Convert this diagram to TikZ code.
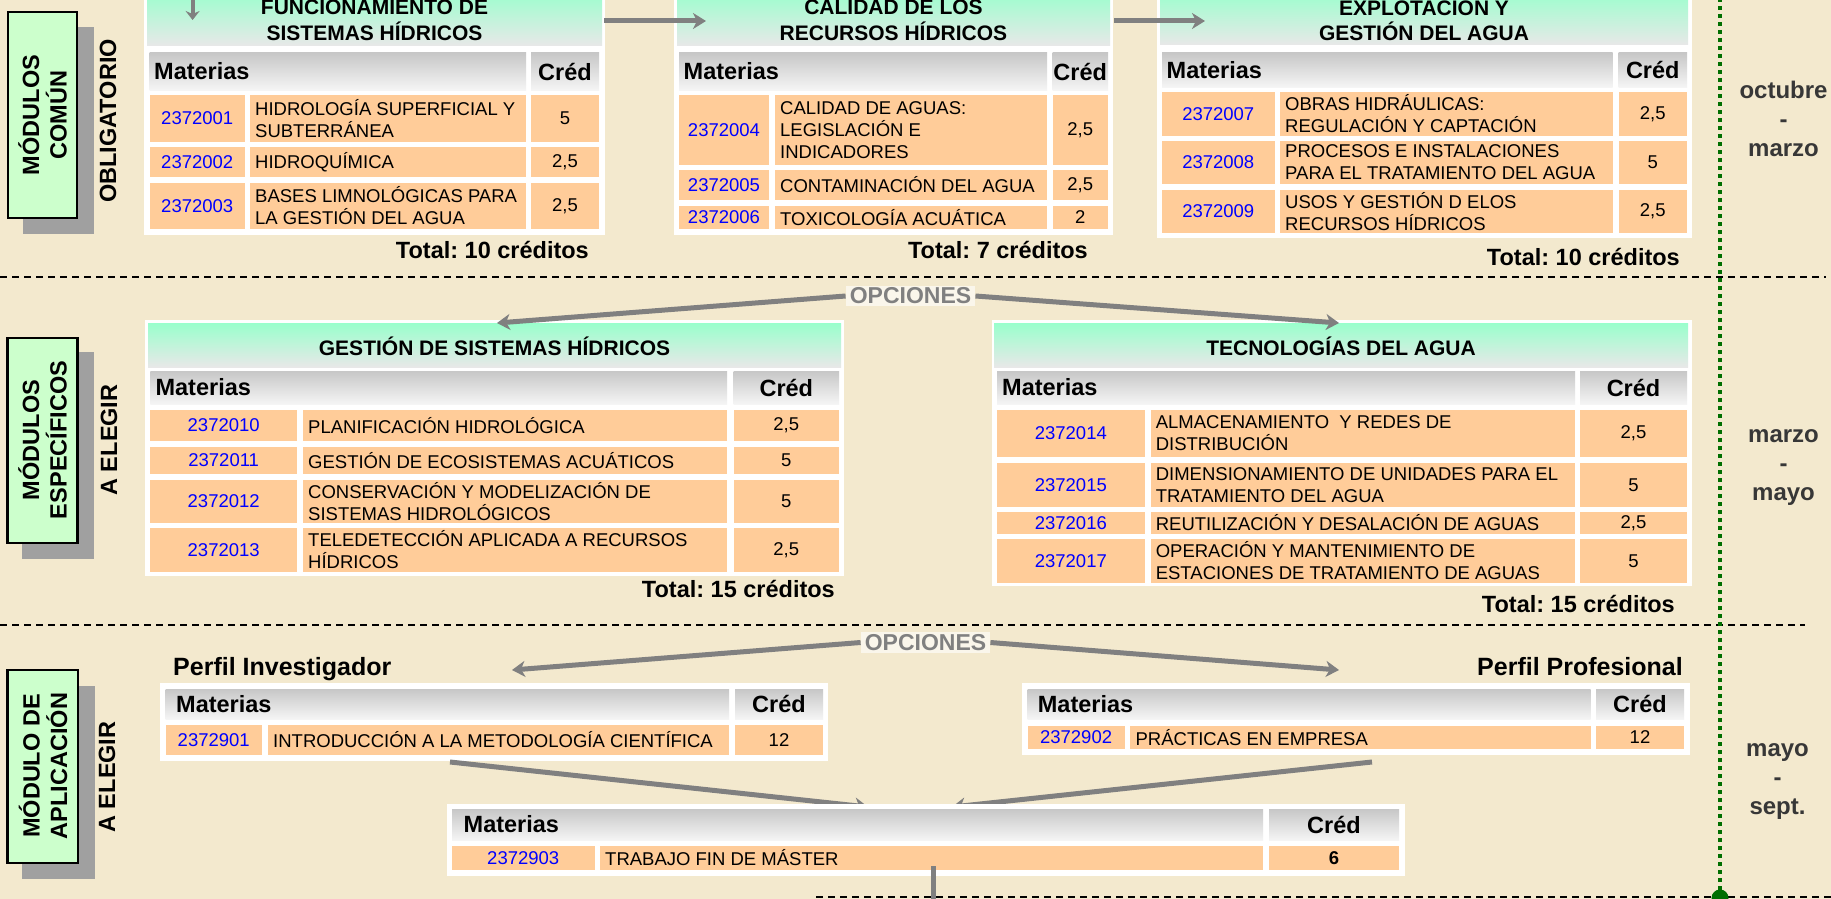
\documentclass[tikz,border=0pt]{standalone}
\usepackage{fontspec}
\setmainfont{Liberation Sans}
\frenchspacing
\usetikzlibrary{arrows.meta}
\definecolor{bgc}{RGB}{243,233,206}
\definecolor{mint}{RGB}{153,255,204}
\definecolor{lblgreen}{RGB}{204,255,204}
\definecolor{cellor}{RGB}{255,204,153}
\definecolor{arrowgray}{RGB}{128,128,128}
\definecolor{shadowgray}{RGB}{160,160,160}
\definecolor{dotgreen}{RGB}{0,110,0}
\definecolor{monthgray}{RGB}{55,55,55}
\newcommand\myfs[2]{\fontsize{#1}{#2}\selectfont}
\tikzset{
 bodytxt/.style={font=\myfs{18.5}{22}, inner sep=0pt},
 codetxt/.style={bodytxt, text=blue},
 desctxt/.style={bodytxt, align=left, anchor=west},
 credtxt/.style={bodytxt},
 hdtxt/.style={font=\bfseries\myfs{23.5}{26}, inner sep=0pt},
 titletxt/.style={font=\bfseries\myfs{21}{25.5}, align=center, inner sep=0pt},
 totaltxt/.style={font=\bfseries\myfs{23.5}{26}, inner sep=0pt},
 sidebox/.style={fill=lblgreen, draw=black, line width=2.5pt},
 sideshadow/.style={fill=shadowgray},
 sidetxt/.style={font=\bfseries\myfs{23.5}{27.5}, align=center, rotate=90, inner sep=0pt},
 monthtxt/.style={font=\bfseries\myfs{24}{29}, align=center, text=monthgray, inner sep=0pt},
 opcbox/.style={font=\bfseries\myfs{23}{26}, text=arrowgray, fill=white, fill opacity=0.6, text opacity=1, inner xsep=4pt, inner ysep=2pt},
 flowarrow/.style={draw=arrowgray, line width=5pt, -{Stealth[length=13pt,width=16pt,inset=4pt]}},
 sepline/.style={draw=black, line width=2pt, dash pattern=on 7pt off 5pt},
 hdshade/.style={top color=black!22, bottom color=black!4},
 titleshade/.style={top color=mint, bottom color=black!9},
}
\newcommand\tabcols[6]{\def\colA{#1}\def\colB{#2}\def\colC{#3}\def\colD{#4}\def\colE{#5}\def\colF{#6}}
\newcommand\tabhead[4]{%
  \shade[hdshade] (\colA,#2) rectangle (\colD,#3);
  \shade[hdshade] (\colE,#2) rectangle (\colF,#3);
  \node[hdtxt, anchor=west] (m#1) at ({\colA+#4},{(#2+#3)/2}) {Materias};
  \node[hdtxt] (cr#1) at ({(\colE+\colF)/2},{(#2+#3)/2}) {Créd};
}
\newcommand\orow[5]{%
  \fill[cellor] (\colA,#1) rectangle (\colB,#2);
  \fill[cellor] (\colC,#1) rectangle (\colD,#2);
  \fill[cellor] (\colE,#1) rectangle (\colF,#2);
  \node[codetxt] (c#3) at ({(\colA+\colB)/2},{(#1+#2)/2}) {#3};
  \node[desctxt] (d#3) at ({\colC+5},{(#1+#2)/2}) {#4};
  \node[credtxt] (k#3) at ({(\colE+\colF)/2},{(#1+#2)/2}) {#5};
}
\begin{document}
\begin{tikzpicture}[x=1pt,y=-1pt]
\useasboundingbox (0,0) rectangle (1831,899);
\fill[bgc] (0,0) rectangle (1831,899);

% separators
\coordinate (s1a) at (0,277); \coordinate (s1b) at (1826,277);
\coordinate (s2a) at (0,625); \coordinate (s2b) at (1805,625);
\coordinate (s3a) at (816,897); \coordinate (s3b) at (1831,897);
\draw[sepline] (s1a) -- (s1b);
\draw[sepline] (s2a) -- (s2b);
\draw[sepline] (s3a) -- (s3b);

% time line
\coordinate (g0) at (1720,-2); \coordinate (g1) at (1720,898);
\draw[dotgreen, line width=4pt, dash pattern=on 4pt off 4pt] (g0) -- (g1);
\fill[dotgreen] (g1) circle (8.5);

% side labels
\fill[sideshadow] (22.5,27) rectangle (94,234);
\draw[sidebox] (8,12) rectangle (77,218);
\node[sidetxt] (lab1) at (42.5,115) {MÓDULOS\\COMÚN};
\node[sidetxt] (sub1) at (108,121) {OBLIGATORIO};
\fill[sideshadow] (22,352) rectangle (93.6,559);
\draw[sidebox] (7.5,338) rectangle (77.5,543);
\node[sidetxt] (lab2) at (42.5,440) {MÓDULOS\\ESPECÍFICOS};
\node[sidetxt] (sub2) at (109,440) {A ELEGIR};
\fill[sideshadow] (22,686) rectangle (95,879);
\draw[sidebox] (7.6,670) rectangle (78,863);
\node[sidetxt] (lab3) at (43,766) {MÓDULO DE\\APLICACIÓN};
\node[sidetxt] (sub3) at (107,777) {A ELEGIR};

% months
\node[monthtxt] (mo1) at (1783.5,119) {octubre\\-\\marzo};
\node[monthtxt] (mo2) at (1783.5,468) {marzo\\-\\mayo};
\node[monthtxt] (mo3) at (1777.5,782) {mayo\\-\\sept.};

% ---------- Table 1
\fill[white] (144,-10) rectangle (605,235);
\shade[titleshade] (147,-10) rectangle (602,46);
\node[titletxt] (t1) at (374.5,20.5) {FUNCIONAMIENTO DE\\SISTEMAS HÍDRICOS};
\tabcols{149.5}{245}{250}{526}{531}{599}
\tabhead{a}{53}{90}{4.5}
\orow{95}{142}{2372001}{HIDROLOGÍA SUPERFICIAL Y\\SUBTERRÁNEA}{5}
\orow{147}{177}{2372002}{HIDROQUÍMICA}{2,5}
\orow{183}{229}{2372003}{BASES LIMNOLÓGICAS PARA\\LA GESTIÓN DEL AGUA}{2,5}
\node[totaltxt, anchor=base east] (tot1) at (589,258) {Total: 10 créditos};

% ---------- Table 2
\fill[white] (674,-10) rectangle (1112.5,235);
\shade[titleshade] (677,-10) rectangle (1110,46);
\node[titletxt] (t2) at (893.5,20.5) {CALIDAD DE LOS\\RECURSOS HÍDRICOS};
\tabcols{679}{769}{775}{1047}{1052.5}{1108}
\tabhead{b}{53}{90}{4.5}
\orow{95}{165}{2372004}{CALIDAD DE AGUAS:\\LEGISLACIÓN E\\INDICADORES}{2,5}
\orow{170}{200}{2372005}{CONTAMINACIÓN DEL AGUA}{2,5}
\orow{206}{229}{2372006}{TOXICOLOGÍA ACUÁTICA}{2}
\node[totaltxt, anchor=base east] (tot2) at (1088,258) {Total: 7 créditos};

% ---------- Table 3
\fill[white] (1157,-10) rectangle (1692,238);
\shade[titleshade] (1160,-10) rectangle (1688,45);
\node[titletxt] (t3) at (1424,19) {EXPLOTACIÓN Y\\GESTIÓN DEL AGUA};
\tabcols{1162}{1274.5}{1280}{1612.5}{1618.5}{1687}
\tabhead{c}{53}{87}{4.5}
\orow{92}{136}{2372007}{OBRAS HIDRÁULICAS:\\REGULACIÓN Y CAPTACIÓN}{2,5}
\orow{141}{184}{2372008}{PROCESOS E INSTALACIONES\\PARA EL TRATAMIENTO DEL AGUA}{5}
\orow{190}{233}{2372009}{USOS Y GESTIÓN D ELOS\\RECURSOS HÍDRICOS}{2,5}
\node[totaltxt, anchor=base east] (tot3) at (1680,265) {Total: 10 créditos};

% top arrows
\coordinate (a0s) at (192.6,-8); \coordinate (a0e) at (192.6,20);
\draw[draw=arrowgray, line width=4pt, -{Stealth[length=9pt,width=14pt,inset=3pt]}] (a0s) -- (a0e);
\coordinate (a1s) at (604,21); \coordinate (a1e) at (706,21);
\draw[flowarrow] (a1s) -- (a1e);
\coordinate (a2s) at (1114,21); \coordinate (a2e) at (1205,21);
\draw[flowarrow] (a2s) -- (a2e);

% ---------- Middle left
\fill[white] (144.7,320) rectangle (844,576);
\shade[titleshade] (148,323) rectangle (841,367);
\node[titletxt] (t4) at (494.5,346.5) {GESTIÓN DE SISTEMAS HÍDRICOS};
\tabcols{150.4}{297}{303}{727}{733.6}{839}
\tabhead{d}{371}{404}{5}
\orow{410}{441}{2372010}{PLANIFICACIÓN HIDROLÓGICA}{2,5}
\orow{447}{474}{2372011}{GESTIÓN DE ECOSISTEMAS ACUÁTICOS}{5}
\orow{480}{523}{2372012}{CONSERVACIÓN Y MODELIZACIÓN DE\\SISTEMAS HIDROLÓGICOS}{5}
\orow{528}{572}{2372013}{TELEDETECCIÓN APLICADA A RECURSOS\\HÍDRICOS}{2,5}
\node[totaltxt, anchor=base east] (tot4) at (835,597) {Total: 15 créditos};

% ---------- Middle right
\fill[white] (992,320) rectangle (1691.6,586);
\shade[titleshade] (994,323) rectangle (1688,367);
\node[titletxt] (t5) at (1341,346.5) {TECNOLOGÍAS DEL AGUA};
\tabcols{997}{1144.7}{1150.6}{1575}{1580}{1687}
\tabhead{e}{371}{404}{5}
\orow{410}{457}{2372014}{ALMACENAMIENTO~ Y REDES DE\\DISTRIBUCIÓN}{2,5}
\orow{463}{507}{2372015}{DIMENSIONAMIENTO DE UNIDADES PARA EL\\TRATAMIENTO DEL AGUA}{5}
\orow{512}{534}{2372016}{REUTILIZACIÓN Y DESALACIÓN DE AGUAS}{2,5}
\orow{539}{583}{2372017}{OPERACIÓN Y MANTENIMIENTO DE\\ESTACIONES DE TRATAMIENTO DE AGUAS}{5}
\node[totaltxt, anchor=base east] (tot5) at (1675,612) {Total: 15 créditos};

% OPCIONES 1
\node[opcbox] (opc1) at (910.5,296) {OPCIONES};
\coordinate (o1l) at (497,323); \coordinate (o1r) at (1339,323);
\draw[flowarrow] (opc1.west) -- (o1l);
\draw[flowarrow] (opc1.east) -- (o1r);

% ---------- Bottom
\node[opcbox] (opc2) at (925.5,642.5) {OPCIONES};
\coordinate (o2l) at (512,670); \coordinate (o2r) at (1339,670);
\draw[flowarrow] (opc2.west) -- (o2l);
\draw[flowarrow] (opc2.east) -- (o2r);

\node[totaltxt, font=\bfseries\myfs{25}{28}, anchor=base west] (pinv) at (173,675) {Perfil Investigador};
\node[totaltxt, font=\bfseries\myfs{25}{28}, anchor=base east] (ppro) at (1683,675) {Perfil Profesional};

\fill[white] (160,683) rectangle (827.5,761);
\tabcols{165.5}{262}{268}{729}{735}{823}
\tabhead{f}{689}{719}{10.5}
\orow{725}{755}{2372901}{INTRODUCCIÓN A LA METODOLOGÍA CIENTÍFICA}{12}

\fill[white] (1021.7,683) rectangle (1689.8,755);
\tabcols{1027.7}{1124.5}{1130.4}{1590.6}{1596}{1684}
\tabhead{g}{689}{719}{10}
\orow{726}{749}{2372902}{PRÁCTICAS EN EMPRESA}{12}

% converging arrows to TFM
\coordinate (cv1s) at (450,762); \coordinate (cv1e) at (868,807);
\coordinate (cv2s) at (1372,762); \coordinate (cv2e) at (952,807);
\draw[flowarrow] (cv1s) -- (cv1e);
\draw[flowarrow] (cv2s) -- (cv2e);

\fill[white] (447,804) rectangle (1405,876);
\tabcols{452}{594.5}{600}{1263}{1269}{1399}
\tabhead{h}{809}{840}{11.5}
\orow{846}{870}{2372903}{TRABAJO FIN DE MÁSTER}{\textbf{6}}

\coordinate (dn0) at (933,866); \coordinate (dn1) at (933,910);
\draw[draw=arrowgray, line width=5pt] (dn0) -- (dn1);
\end{tikzpicture}
\end{document}
